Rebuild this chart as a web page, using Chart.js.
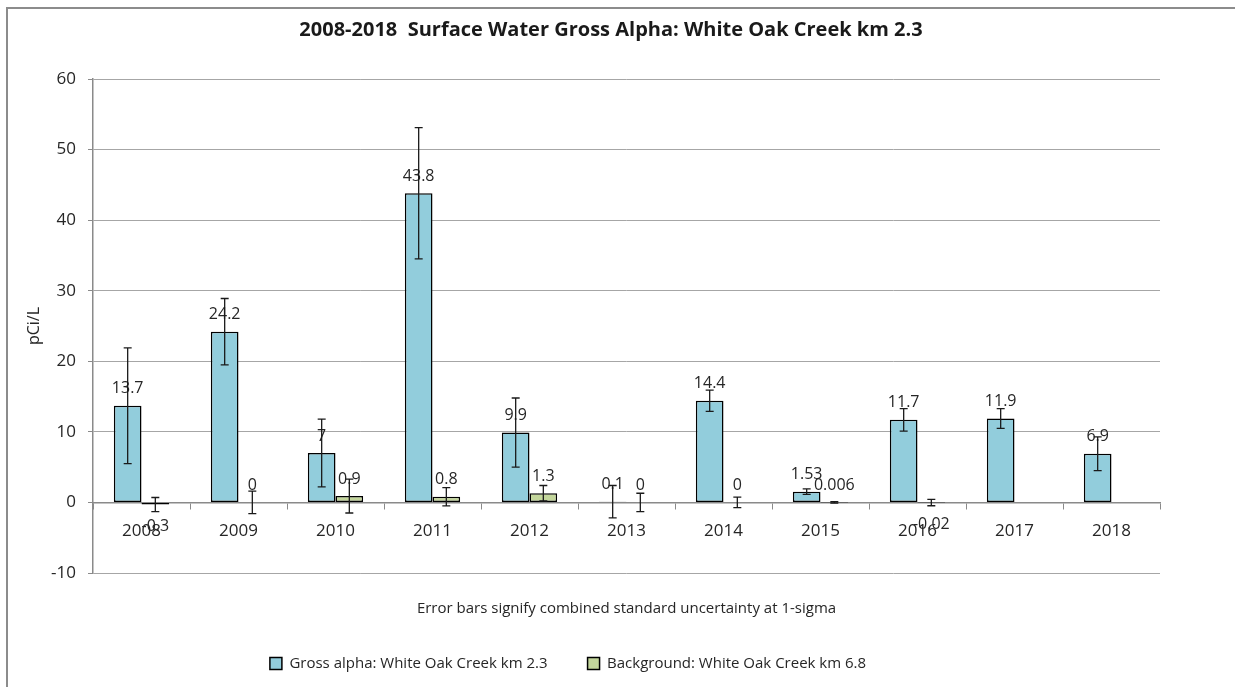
<!DOCTYPE html>
<html lang="en">
<head>
<meta charset="UTF-8">
<title>Gross Alpha chart</title>
<script src="https://cdn.jsdelivr.net/npm/chart.js@4.4.1/dist/chart.umd.min.js"></script>
<style>
    body {
        margin: 0;
        background: white;
        overflow: hidden;
    }

    #wrap {
        position: relative;
        width: 1235px;
        height: 687px;
    }

    #frame {
        position: absolute;
        left: 6px;
        top: 7px;
        width: 1240px;
        height: 700px;
        border: 2px solid #8c8c8c;
        pointer-events: none;
    }
</style>
</head>
<body>
<div id="wrap">
    <canvas id="myChart" width="1235" height="687"></canvas>
    <div id="frame"></div>
</div>

<script>
    const years = ['2008', '2009', '2010', '2011', '2012', '2013', '2014', '2015', '2016', '2017', '2018']
    const grossAlpha = [13.7, 24.2, 7, 43.8, 9.9, 0.1, 14.4, 1.53, 11.7, 11.9, 6.9]
    const grossAlphaErr = [8.2, 4.7, 4.8, 9.3, 4.9, 2.3, 1.5, 0.4, 1.6, 1.4, 2.4]
    const background = [-0.3, 0, 0.9, 0.8, 1.3, 0, 0, 0.006, -0.02, null, null]
    const backgroundErr = [1.0, 1.6, 2.4, 1.3, 1.1, 1.3, 0.75, 0.1, 0.45, null, null]
    const yTicks = { min: -10, max: 60, step: 10 }

    const errors = [grossAlphaErr, backgroundErr]

    // value labels + error bars, drawn from the bar elements and y scale
    const barExtras = {
        id: 'barExtras',
        afterDatasetsDraw(chart) {
            const ctx = chart.ctx
            const y = chart.scales.y
            ctx.save()
            ctx.font = "16px 'Open Sans'"
            ctx.fillStyle = '#262626'
            ctx.textAlign = 'center'
            ctx.textBaseline = 'middle'
            chart.data.datasets.forEach((ds, i) => {
                chart.getDatasetMeta(i).data.forEach((bar, j) => {
                    const v = ds.data[j]
                    if (v === null) return
                    const py = y.getPixelForValue(v)
                    ctx.fillText(String(v), bar.x, v < 0 ? py + 22 : py - 17)
                })
            })
            ctx.strokeStyle = '#1a1a1a'
            ctx.lineWidth = 1.3
            chart.data.datasets.forEach((ds, i) => {
                chart.getDatasetMeta(i).data.forEach((bar, j) => {
                    const v = ds.data[j]
                    const e = errors[i][j]
                    if (v === null || e === null) return
                    const top = y.getPixelForValue(v + e)
                    const bot = y.getPixelForValue(v - e)
                    ctx.beginPath()
                    ctx.moveTo(bar.x, top)
                    ctx.lineTo(bar.x, bot)
                    ctx.moveTo(bar.x - 4, top)
                    ctx.lineTo(bar.x + 4, top)
                    ctx.moveTo(bar.x - 4, bot)
                    ctx.lineTo(bar.x + 4, bot)
                    ctx.stroke()
                })
            })
            ctx.restore()
        }
    }

    // nudge the legend left like the original
    const legendShift = {
        id: 'legendShift',
        afterLayout(chart) {
            chart.legend.left -= 43
            chart.legend.right -= 43
        }
    }

    Chart.defaults.font.family = "'Open Sans', sans-serif"
    Chart.defaults.color = '#262626'

    const chart = new Chart('myChart', {
        type: 'bar',
        data: {
            labels: years,
            datasets: [{
                label: 'Gross alpha: White Oak Creek km 2.3',
                data: grossAlpha,
                backgroundColor: '#92cddc',
                borderColor: '#000000',
                borderWidth: 1.5,
                borderSkipped: false
            }, {
                label: 'Background: White Oak Creek km 6.8',
                data: background,
                backgroundColor: '#c3d69b',
                borderColor: '#000000',
                borderWidth: 1.5,
                borderSkipped: false
            }]
        },
        options: {
            responsive: false,
            animation: false,
            categoryPercentage: 0.57,
            barPercentage: 1,
            layout: {
                padding: { left: 0, right: 13, top: 0, bottom: 6 }
            },
            plugins: {
                title: {
                    display: true,
                    text: '2008-2018  Surface Water Gross Alpha: White Oak Creek km 2.3',
                    font: { size: 20, weight: 'bold' },
                    color: '#1a1a1a',
                    padding: { top: 18, bottom: 37 }
                },
                subtitle: {
                    display: true,
                    position: 'bottom',
                    weight: 500,
                    fullSize: false,
                    text: 'Error bars signify combined standard uncertainty at 1-sigma',
                    font: { size: 15 },
                    color: '#262626',
                    padding: { top: 27, bottom: -2 }
                },
                legend: {
                    position: 'bottom',
                    labels: {
                        boxWidth: 12,
                        boxHeight: 12,
                        padding: 40,
                        font: { size: 15 },
                        color: '#262626'
                    }
                },
                tooltip: { enabled: false }
            },
            scales: {
                x: {
                    position: { y: 0 },
                    grid: {
                        offset: true,
                        drawOnChartArea: false,
                        drawTicks: true,
                        tickLength: 6,
                        color: '#8a8a8a'
                    },
                    border: { color: '#8a8a8a', width: 1.5 },
                    ticks: {
                        padding: 13,
                        font: { size: 17 },
                        color: '#262626'
                    }
                },
                y: {
                    min: yTicks.min,
                    max: yTicks.max,
                    ticks: {
                        stepSize: yTicks.step,
                        padding: 12,
                        font: { size: 17 },
                        color: '#262626'
                    },
                    grid: {
                        color: '#a6a6a6',
                        tickLength: 5,
                        tickColor: '#8a8a8a'
                    },
                    border: { color: '#8a8a8a', width: 1.5 },
                    title: {
                        display: true,
                        text: 'pCi/L',
                        font: { size: 16 },
                        color: '#262626',
                        padding: { top: 25, bottom: 0 }
                    },
                    afterFit(scale) {
                        scale.width = 93
                    }
                },
                y2: {
                    position: 'right',
                    ticks: { display: false },
                    grid: { display: false },
                    border: { display: false },
                    afterFit(scale) {
                        scale.width = 62
                    }
                }
            }
        },
        plugins: [barExtras, legendShift]
    })
</script>
</body>
</html>
